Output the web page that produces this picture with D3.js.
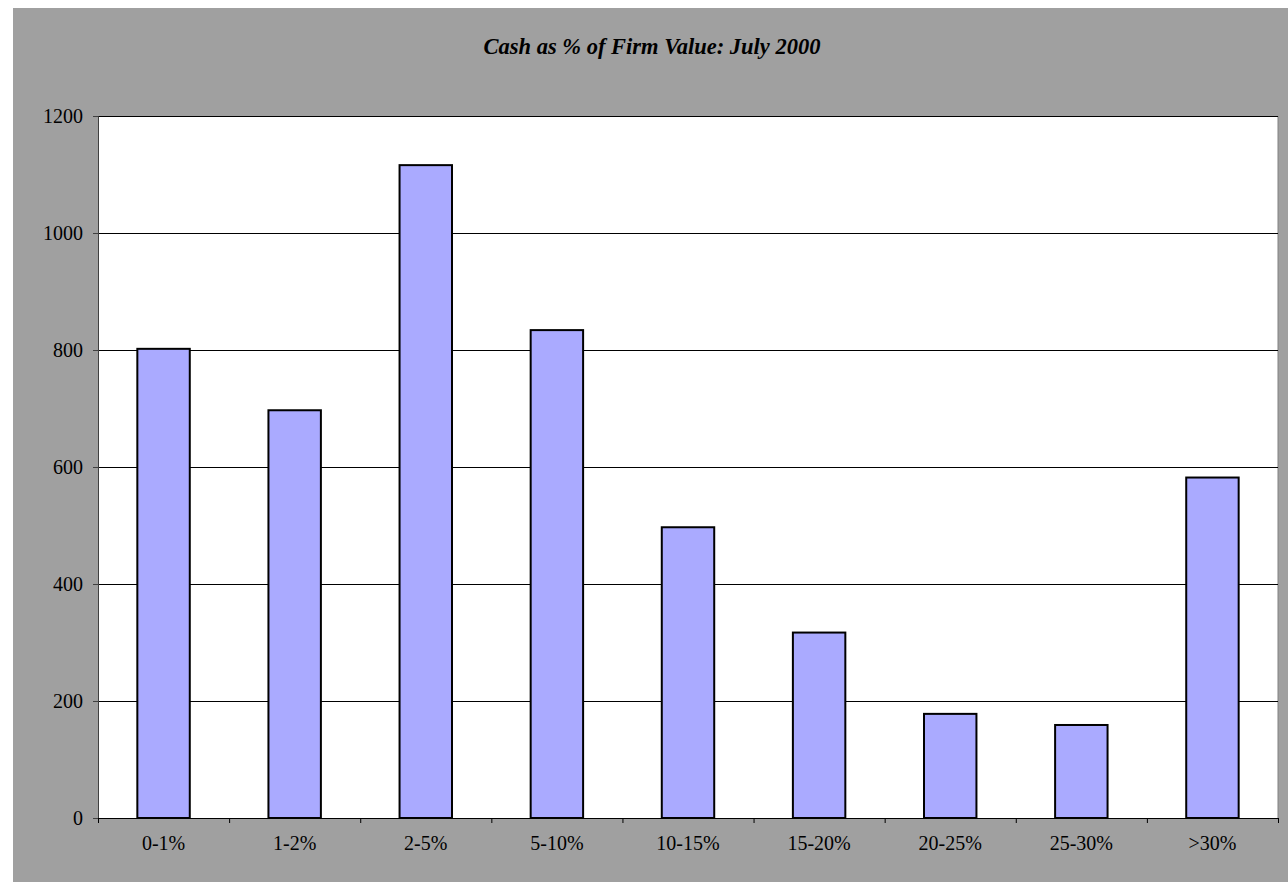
<!DOCTYPE html>
<html>
<head>
<meta charset="utf-8">
<script src="https://cdn.jsdelivr.net/npm/d3@7"></script>
<style>
  body { margin: 0; background: #fff; }
  text { font-family: "Liberation Serif", "Times New Roman", serif; fill: #000; }
</style>
</head>
<body>
<div id="chart"></div>
<script>
// chart data
let categories = ["0-1%", "1-2%", "2-5%", "5-10%", "10-15%", "15-20%", "20-25%", "25-30%", ">30%"];
let counts = [802, 697, 1116, 834, 497, 317, 178, 159, 582];
let yTicks = [0, 200, 400, 600, 800, 1000, 1200];
let title = "Cash as % of Firm Value: July 2000";

let width = 1288, height = 882;
let plot = {left: 98, right: 1278, top: 116, bottom: 818};

let svg = d3.select("#chart").append("svg")
    .attr("width", width)
    .attr("height", height);

// grey chart area + white plot area
svg.append("rect")
    .attr("x", 13).attr("y", 8)
    .attr("width", width - 13).attr("height", height - 8)
    .attr("fill", "#a0a0a0");
svg.append("rect")
    .attr("x", plot.left).attr("y", plot.top)
    .attr("width", plot.right - plot.left).attr("height", plot.bottom - plot.top)
    .attr("fill", "#fff");
svg.append("line")
    .attr("x1", plot.right).attr("x2", plot.right)
    .attr("y1", plot.top).attr("y2", plot.bottom)
    .attr("stroke", "#808080");

// title
svg.append("text")
    .attr("x", 652).attr("y", 54)
    .attr("text-anchor", "middle")
    .style("font-size", "22.5px")
    .style("font-weight", "bold")
    .style("font-style", "italic")
    .text(title);

// scales
let x = d3.scaleBand()
    .domain(categories)
    .range([plot.left, plot.right])
    .paddingInner(0.6)
    .paddingOuter(0.3);
let xEdge = d3.scaleLinear()
    .domain([0, categories.length])
    .range([plot.left, plot.right]);
let y = d3.scaleLinear()
    .domain([0, 1200])
    .range([plot.bottom, plot.top]);

// gridlines
svg.append("g")
    .selectAll("line")
    .data(yTicks.filter(d => d > 0))
    .join("line")
    .attr("x1", plot.left).attr("x2", plot.right)
    .attr("y1", d => Math.round(y(d)) + 0.5).attr("y2", d => Math.round(y(d)) + 0.5)
    .attr("stroke", "#000")
    .attr("stroke-width", 1);

// bars
svg.append("g")
    .selectAll("rect")
    .data(categories)
    .join("rect")
    .attr("x", d => x(d))
    .attr("y", (d, i) => y(counts[i]))
    .attr("width", x.bandwidth())
    .attr("height", (d, i) => y(0) - y(counts[i]))
    .attr("fill", "#aaaaff")
    .attr("stroke", "#000")
    .attr("stroke-width", 2);

// y axis
let yAxis = d3.axisLeft(y)
    .tickValues(yTicks)
    .tickFormat(d3.format("d"))
    .tickSize(5)
    .tickPadding(10);
let gy = svg.append("g")
    .attr("transform", "translate(" + plot.left + ",0)")
    .call(yAxis);
gy.select(".domain").attr("stroke", "#404040");
gy.selectAll(".tick line").attr("stroke", "#404040");
gy.selectAll("text")
    .style("font-size", "20px")
    .attr("font-family", null);

// x axis: tick marks on category edges, labels at centres
let gxTicks = svg.append("g")
    .attr("transform", "translate(0," + plot.bottom + ")")
    .call(d3.axisBottom(xEdge).tickValues(d3.range(categories.length + 1)).tickFormat("").tickSize(5).tickSizeOuter(0));
gxTicks.select(".domain").attr("stroke", "#000");

let gx = svg.append("g")
    .attr("transform", "translate(0," + plot.bottom + ")")
    .call(d3.axisBottom(x).tickSize(0).tickPadding(18));
gx.select(".domain").remove();
gx.selectAll("text")
    .style("font-size", "20px")
    .attr("font-family", null);
</script>
</body>
</html>
